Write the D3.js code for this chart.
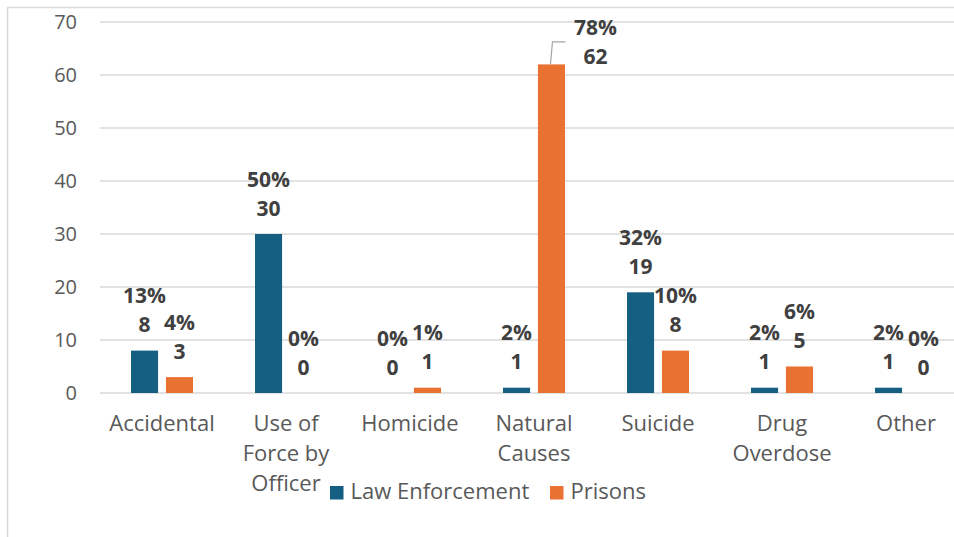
<!DOCTYPE html>
<html>
<head>
<meta charset="utf-8">
<script src="https://cdn.jsdelivr.net/npm/d3@7/dist/d3.min.js"></script>
<style>
  html, body { margin: 0; padding: 0; background: #fff; }
  svg { display: block; font-family: "Open Sans", "Noto Sans", sans-serif; }
</style>
</head>
<body>
<svg id="chart" width="954" height="537"></svg>
<script>
// Deaths by cause, law enforcement vs. prisons
const categories = ["Accidental", "Use of Force by Officer", "Homicide", "Natural Causes", "Suicide", "Drug Overdose", "Other"];
const seriesNames = ["Law Enforcement", "Prisons"];
const lawEnforcement = [8, 30, 0, 1, 19, 1, 1];
const prisons = [3, 0, 1, 62, 8, 5, 0];
const yTicks = [0, 10, 20, 30, 40, 50, 60, 70];
const colors = ["#156082", "#E97132"];

const seriesValues = [lawEnforcement, prisons];
const totals = seriesValues.map(v => d3.sum(v));

const svg = d3.select("#chart");
const W = 954, H = 537;
const margin = { left: 100, right: -14, top: 22, bottom: 144 };

// chart frame
svg.append("path")
  .attr("d", `M7.5,${H} V7.5 H${W}`)
  .attr("fill", "none").attr("stroke", "#D9D9D9").attr("stroke-width", 1.5);

const x0 = d3.scaleBand()
  .domain(categories)
  .range([margin.left, W - margin.right])
  .paddingInner(0.5).paddingOuter(0.25);

const x1 = d3.scaleBand()
  .domain(seriesNames)
  .range([0, x0.bandwidth()])
  .paddingInner(0.225);

const y = d3.scaleLinear()
  .domain([0, 70])
  .range([H - margin.bottom, margin.top]);

// gridlines
svg.append("g")
  .selectAll("line").data(yTicks).join("line")
  .attr("x1", margin.left).attr("x2", W)
  .attr("y1", d => y(d)).attr("y2", d => y(d))
  .attr("stroke", "#D9D9D9").attr("stroke-width", 1.5);

// y axis labels
const yAxis = svg.append("g")
  .attr("transform", `translate(${margin.left},0)`)
  .call(d3.axisLeft(y).tickValues(yTicks).tickSize(0).tickPadding(23));
yAxis.select(".domain").remove();
yAxis.selectAll("text")
  .attr("fill", "#595959").style("font-size", "20px")
  .style("font-family", "'Open Sans', sans-serif");

// x axis labels, wrapped to the category width
const xAxis = svg.append("g")
  .attr("transform", `translate(0,${y(0)})`)
  .call(d3.axisBottom(x0).tickSize(0).tickPadding(0));
xAxis.select(".domain").remove();
xAxis.selectAll("text")
  .attr("fill", "#595959").style("font-size", "22px")
  .style("font-family", "'Open Sans', sans-serif")
  .attr("dy", null)
  .each(function(d) {
    const t = d3.select(this);
    const words = d.split(" ");
    t.text(null);
    const maxW = 122, lh = 30, baseY = 38;
    let line = [];
    let tspan = t.append("tspan").attr("x", 0).attr("y", baseY);
    let n = 0;
    for (const w of words) {
      line.push(w);
      tspan.text(line.join(" "));
      if (tspan.node().getComputedTextLength() > maxW && line.length > 1) {
        line.pop();
        tspan.text(line.join(" "));
        line = [w];
        n++;
        tspan = t.append("tspan").attr("x", 0).attr("y", baseY + n * lh).text(w);
      }
    }
  });

// bars
const groups = svg.append("g").selectAll("g")
  .data(categories).join("g")
  .attr("transform", d => `translate(${x0(d)},0)`);

const barData = (c, i) => seriesNames.map((s, k) => ({
  cat: c, series: s, k, value: seriesValues[k][i],
  pct: Math.round(seriesValues[k][i] / totals[k] * 100)
}));

groups.selectAll("rect")
  .data(barData).join("rect")
  .attr("x", d => x1(d.series))
  .attr("width", x1.bandwidth())
  .attr("y", d => y(d.value))
  .attr("height", d => y(0) - y(d.value))
  .attr("fill", d => colors[d.k]);

// data labels: percent share above the count
const labelShift = { "Natural Causes|Prisons": [44, 18.5] };

groups.each(function(c, i) {
  const g = d3.select(this);
  barData(c, i).forEach(d => {
    const cx = x1(d.series) + x1.bandwidth() / 2;
    const top = y(d.value);
    const sh = labelShift[d.cat + "|" + d.series] || [0, 0];
    const lx = cx + sh[0];
    const ly = top + sh[1];
    const lbl = g.append("text")
      .attr("text-anchor", "middle")
      .attr("fill", "#404040")
      .style("font-weight", "bold").style("font-size", "21px");
    lbl.append("tspan").attr("x", lx).attr("y", ly - 55 + 7.5).text(d.pct + "%");
    lbl.append("tspan").attr("x", lx).attr("y", ly - 26 + 7.5).text(d.value);
    if (sh[0] !== 0) {
      // leader line from the bar top to the moved label
      g.append("path")
        .attr("d", `M${cx - 1},${top} L${cx + 1},${ly - 41} H${cx + 14}`)
        .attr("fill", "none").attr("stroke", "#A6A6A6").attr("stroke-width", 1.2);
    }
  });
});

// legend
const legend = svg.append("g").attr("transform", "translate(330,486)");
const legendX = [0, 220];
seriesNames.forEach((s, k) => {
  const lg = legend.append("g").attr("transform", `translate(${legendX[k]},0)`);
  lg.append("rect").attr("width", 13.5).attr("height", 13.5).attr("fill", colors[k]);
  lg.append("text").attr("x", 20.5).attr("y", 12.5)
    .attr("fill", "#595959").style("font-size", "22px").text(s);
});
</script>
</body>
</html>
